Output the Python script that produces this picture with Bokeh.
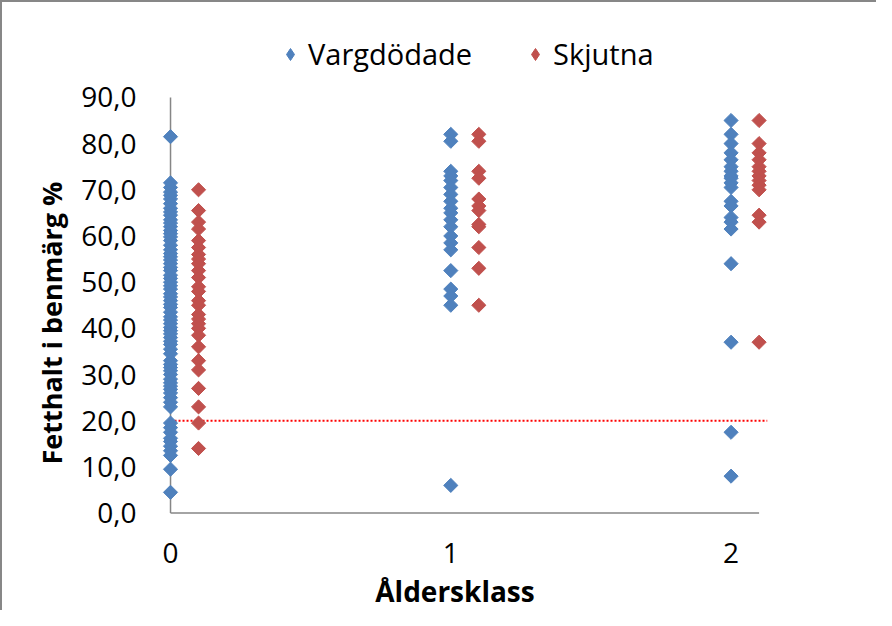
import numpy as np
from bokeh.plotting import figure
from bokeh.models import Range1d, FixedTicker, Legend, LegendItem, Title
from bokeh.embed import file_html
from bokeh.resources import INLINE

# ---- data ----
series_names = ["Vargdödade", "Skjutna"]
x_ticks = [0, 1, 2]
x_tick_labels = ["0", "1", "2"]
y_ticks = [0, 10, 20, 30, 40, 50, 60, 70, 80, 90]
y_tick_labels = ["0,0", "10,0", "20,0", "30,0", "40,0", "50,0", "60,0", "70,0", "80,0", "90,0"]
y_title = "Fetthalt i benmärg %"
x_title = "Åldersklass"
threshold = 20.0
skjutna_offset = 0.1

varg_age0 = [81.5, 71.5, 70.5, 69.5, 68.8, 68.0, 67.0, 66.0, 65.2, 64.5, 63.5, 62.8, 62.0,
             61.2, 60.5, 59.8, 59.0, 58.0, 57.0, 56.2, 55.5, 54.8, 54.0, 53.2, 52.5, 51.5,
             50.8, 50.0, 49.2, 48.5, 47.5, 46.8, 46.0, 45.2, 44.5, 43.5, 42.5, 41.8, 41.0,
             40.2, 39.5, 38.8, 38.0, 37.2, 36.5, 35.5, 34.5, 33.0, 32.2, 31.5, 30.8, 30.0,
             29.0, 28.2, 27.5, 26.8, 26.0, 25.0, 24.0, 23.0, 19.5, 18.5, 17.5, 16.2, 15.5,
             14.5, 13.5, 12.5, 9.5, 4.5]
varg_age1 = [82.0, 80.5, 74.0, 73.0, 72.0, 70.5, 69.0, 67.5, 66.0, 65.0, 63.5, 62.0, 60.0,
             58.5, 57.0, 52.5, 48.5, 47.0, 45.0, 6.0]
varg_age2 = [85.0, 82.0, 80.0, 78.0, 76.5, 75.0, 74.0, 73.0, 72.5, 71.5, 70.5, 67.5, 66.5,
             64.0, 63.0, 61.5, 54.0, 37.0, 17.5, 8.0]

skj_age0 = [70.0, 65.5, 63.0, 61.5, 59.0, 57.5, 56.0, 55.0, 54.0, 52.5, 51.0, 49.0, 48.0,
            46.0, 45.0, 43.0, 42.0, 41.0, 40.0, 38.5, 36.0, 33.0, 31.0, 27.0, 23.0, 19.5, 14.0]
skj_age1 = [82.0, 80.5, 74.0, 72.5, 68.0, 66.5, 65.5, 62.5, 62.0, 57.5, 53.0, 45.0]
skj_age2 = [85.0, 80.0, 78.0, 76.5, 75.0, 74.0, 73.0, 72.0, 71.0, 70.0, 64.5, 63.0, 37.0]

colors = ["#4F81BD", "#C0504D"]

varg_x = [0] * len(varg_age0) + [1] * len(varg_age1) + [2] * len(varg_age2)
varg_y = varg_age0 + varg_age1 + varg_age2
skj_x = ([0 + skjutna_offset] * len(skj_age0) + [1 + skjutna_offset] * len(skj_age1)
         + [2 + skjutna_offset] * len(skj_age2))
skj_y = skj_age0 + skj_age1 + skj_age2

x_start, x_axis_end, x_end = -0.1, 2.1, 2.13
# frame reaches above the axis top (90) to host the legend, and a hair below 0
y_start, y_axis_end, y_end = -0.3, 90, 106

font = "Open Sans"
axis_gray = "#868686"

p = figure(width=876, height=610, output_backend="svg", toolbar_location=None,
           x_range=Range1d(x_start, x_end), y_range=Range1d(y_start, y_end),
           min_border_left=140, min_border_right=111, min_border_top=21, min_border_bottom=96)
p.background_fill_color = "white"
p.border_fill_color = "white"
p.outline_line_color = None
p.xgrid.visible = False
p.ygrid.visible = False
p.styles = {"border-left": "2px solid #878787", "border-top": "2px solid #878787"}

# threshold line
p.segment(x0=[0], x1=[x_end], y0=[threshold], y1=[threshold], line_color="#FF0000",
          line_width=2, line_dash="2 2")
# axis lines (y at x=0, x at y=0)
p.segment(x0=[0], x1=[0], y0=[0], y1=[y_axis_end], line_color=axis_gray, line_width=1.5)
p.segment(x0=[0], x1=[x_axis_end], y0=[0], y1=[0], line_color=axis_gray, line_width=1.5)

# legend icon renderers (diamonds), hidden beneath the first data point of each series
l1 = p.scatter(varg_x[:1], varg_y[:1], marker="diamond", size=8,
               fill_color=colors[0], line_color=colors[0])
l2 = p.scatter(skj_x[:1], skj_y[:1], marker="diamond", size=8,
               fill_color=colors[1], line_color=colors[1])

r1 = p.scatter(varg_x, varg_y, marker="square", angle=np.pi / 4, size=10,
               fill_color=colors[0], line_color=colors[0])
r2 = p.scatter(skj_x, skj_y, marker="square", angle=np.pi / 4, size=10,
               fill_color=colors[1], line_color=colors[1])

# axes
xa = p.xaxis[0]
xa.ticker = FixedTicker(ticks=x_ticks)
xa.major_label_overrides = {t: l for t, l in zip(x_ticks, x_tick_labels)}
xa.axis_line_color = None
xa.major_tick_line_color = None
xa.minor_tick_line_color = None
xa.major_label_text_font = font
xa.major_label_text_font_size = "28px"
xa.major_label_text_color = "black"
xa.major_label_standoff = 22
xa.axis_label = x_title
xa.axis_label_text_font = font
xa.axis_label_text_font_size = "28px"
xa.axis_label_text_font_style = "bold"
xa.axis_label_text_color = "black"
xa.axis_label_standoff = 6

ya = p.yaxis[0]
ya.ticker = FixedTicker(ticks=y_ticks)
ya.major_label_overrides = {t: l for t, l in zip(y_ticks, y_tick_labels)}
ya.axis_line_color = None
ya.major_tick_line_color = None
ya.minor_tick_line_color = None
ya.major_label_text_font = font
ya.major_label_text_font_size = "28px"
ya.major_label_text_color = "black"
ya.major_label_standoff = 0

# y title, aligned to the plotted axis span rather than the taller frame
yt = Title(text=y_title, align="left", offset=50, standoff=18,
           text_font=font, text_font_size="27px", text_font_style="bold",
           text_color="black")
p.add_layout(yt, "left")

legend = Legend(items=[LegendItem(label=series_names[0], renderers=[l1]),
                       LegendItem(label=series_names[1], renderers=[l2])],
                orientation="horizontal", location=(133, 441))
legend.label_text_font = font
legend.label_text_font_size = "29px"
legend.label_text_color = "black"
legend.glyph_width = 30
legend.glyph_height = 30
legend.label_standoff = 3
legend.spacing = 48
legend.padding = 10
legend.margin = 0
legend.border_line_color = None
legend.background_fill_alpha = 0
p.add_layout(legend, "center")

open("out.html", "w").write(file_html(p, INLINE))
